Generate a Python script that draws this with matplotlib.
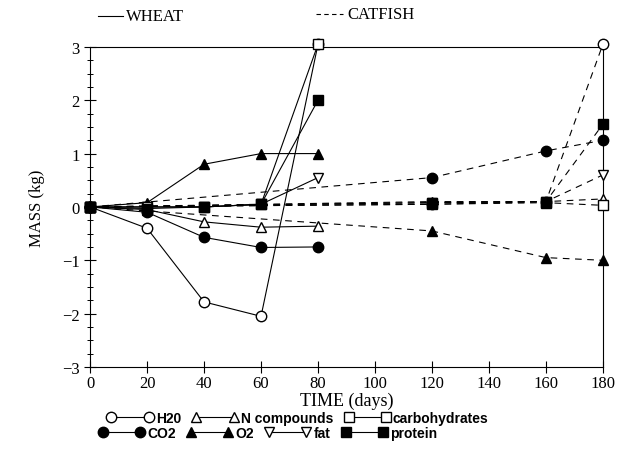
import matplotlib
matplotlib.use("Agg")
import matplotlib.pyplot as plt
from matplotlib.lines import Line2D
from matplotlib.ticker import MultipleLocator

# Wheat sampled at 0-80 days, catfish at 0-180 days
wheat_days = [0, 20, 40, 60, 80]
catfish_days = [0, 120, 160, 180]

wheat_h2o = [0, -0.40, -1.78, -2.05, 3.05]
wheat_n = [0, -0.05, -0.28, -0.38, -0.36]
wheat_carb = [0, 0.0, 0.0, 0.05, 3.05]
wheat_co2 = [0, -0.10, -0.57, -0.76, -0.75]
wheat_o2 = [0, 0.08, 0.80, 1.00, 1.00]
wheat_fat = [0, 0.0, 0.0, 0.05, 0.55]
wheat_protein = [0, -0.03, 0.0, 0.05, 2.00]

catfish_h2o = [0, 0.05, 0.10, 3.05]
catfish_n = [0, 0.10, 0.10, 0.15]
catfish_carb = [0, 0.05, 0.08, 0.03]
catfish_co2 = [0, 0.55, 1.05, 1.25]
catfish_o2 = [0, -0.45, -0.95, -1.00]
catfish_fat = [0, 0.08, 0.10, 0.60]
catfish_protein = [0, 0.08, 0.10, 1.55]

names = ["H20", "N compounds", "carbohydrates", "CO2", "O2", "fat", "protein"]
markers = ["o", "^", "s", "o", "^", "v", "s"]
filled = [False, False, False, True, True, False, True]

wheat = [wheat_h2o, wheat_n, wheat_carb, wheat_co2, wheat_o2, wheat_fat, wheat_protein]
catfish = [catfish_h2o, catfish_n, catfish_carb, catfish_co2, catfish_o2, catfish_fat, catfish_protein]

plt.rcParams['font.family'] = ['Liberation Serif', 'DejaVu Serif']

fig = plt.figure(figsize=(6.3, 4.56), dpi=100)
ax = fig.add_axes([0.143, 0.193, 0.814, 0.702])

for i in range(len(names)):
    fc = 'black' if filled[i] else 'white'
    ax.plot(wheat_days, wheat[i], color='black', lw=0.8, ls='-',
            marker=markers[i], ms=7.5, mfc=fc, mec='black', mew=1.0,
            zorder=3, clip_on=False)
    ax.plot(catfish_days, catfish[i], color='black', lw=0.8, ls=(0, (6, 5)),
            marker=markers[i], ms=7.5, mfc=fc, mec='black', mew=1.0,
            zorder=3, clip_on=False)

ax.set_xlim(0, 180)
ax.set_ylim(-3, 3)
ax.xaxis.set_major_locator(MultipleLocator(20))
ax.yaxis.set_major_locator(MultipleLocator(1))
ax.yaxis.set_minor_locator(MultipleLocator(0.25))
ax.tick_params(which='major', direction='inout', length=8, width=0.8, labelsize=12)
ax.tick_params(which='minor', direction='inout', length=4, width=0.7)
ax.tick_params(axis='x', which='minor', length=0)
ax.tick_params(axis='x', which='major', pad=2)
for s in ax.spines.values():
    s.set_linewidth(0.8)

ax.set_xlabel("TIME (days)", fontsize=13, labelpad=0)
ax.set_ylabel("MASS (kg)", fontsize=12, labelpad=12)

# top legend: WHEAT / CATFISH line styles
fig.add_artist(Line2D([0.155, 0.195], [0.962, 0.962], color='black', lw=0.8))
fig.text(0.200, 0.962, "WHEAT", fontsize=12, va='center', ha='left')
fig.add_artist(Line2D([0.502, 0.545], [0.968, 0.968], color='black', lw=0.8, ls=(0, (4, 3))))
fig.text(0.552, 0.968, "CATFISH", fontsize=12, va='center', ha='left')

# bottom legends: symbols
def handle(i):
    fc = 'black' if filled[i] else 'white'
    return Line2D([], [], color='black', lw=0.8, marker=markers[i], ms=7.5,
                  mfc=fc, mec='black', mew=1.0)

legend_font = {'family': ['Liberation Sans', 'DejaVu Sans'], 'weight': 'bold', 'size': 10}
row1 = [0, 1, 2]
row2 = [3, 4, 5, 6]
leg1 = fig.legend([handle(i) for i in row1], [names[i] for i in row1], ncol=3,
                  loc='center', bbox_to_anchor=(0.473, 0.081), frameon=False,
                  numpoints=2, handlelength=3.3, handletextpad=0.2,
                  columnspacing=0.8, prop=legend_font, borderpad=0)
leg2 = fig.legend([handle(i) for i in row2], [names[i] for i in row2], ncol=4,
                  loc='center', bbox_to_anchor=(0.425, 0.049), frameon=False,
                  numpoints=2, handlelength=3.3, handletextpad=0.2,
                  columnspacing=0.8, prop=legend_font, borderpad=0)

fig.savefig("out.png", dpi=100)
